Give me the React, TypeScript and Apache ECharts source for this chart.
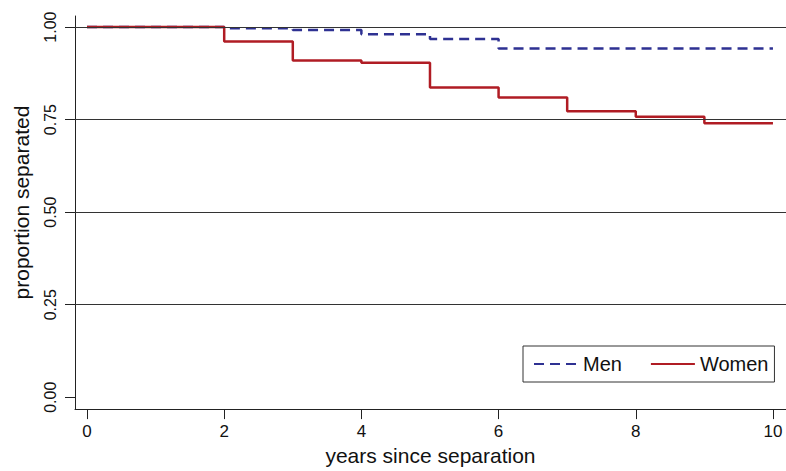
import React, { useEffect, useRef } from "react";
import * as echarts from "echarts";

const xTicks = [0, 2, 4, 6, 8, 10];
const yTicks = [0, 0.25, 0.5, 0.75, 1];
const gridLevels = [0.25, 0.5, 0.75, 1];

const menYears = [0, 2, 3, 4, 5, 6, 10];
const menSurv = [1.0, 0.997, 0.992, 0.981, 0.968, 0.942, 0.942];

const womenYears = [0, 2, 3, 4, 5, 6, 7, 8, 9, 10];
const womenSurv = [1.0, 0.961, 0.91, 0.9035, 0.837, 0.81, 0.773, 0.758, 0.74, 0.74];

const FONT = "'Liberation Sans', Arial, Helvetica, sans-serif";

export default function App() {
  const ref = useRef<HTMLDivElement>(null);
  useEffect(() => {
    const chart = echarts.init(ref.current!, null, { renderer: "svg" });
    chart.setOption({
      animation: false,
      textStyle: { fontFamily: FONT },
      grid: { left: 75, right: 0, top: 16, bottom: 55 },
      legend: {
        data: ["Men", "Women"],
        left: 523,
        top: 346,
        orient: "horizontal",
        borderColor: "#333",
        borderWidth: 1,
        padding: [8, 6, 8, 10],
        itemGap: 28,
        itemWidth: 44,
        itemHeight: 14,
        itemStyle: { opacity: 0 },
        textStyle: { fontSize: 20, color: "#111", fontFamily: FONT },
      },
      xAxis: {
        type: "value",
        min: -0.175,
        max: 10.19,
        name: "years since separation",
        nameLocation: "middle",
        nameGap: 33,
        nameTextStyle: { fontSize: 21, color: "#111", fontFamily: FONT },
        axisLine: { show: true, onZero: false, lineStyle: { color: "#222", width: 1 } },
        axisTick: { show: true, length: 10, customValues: xTicks, lineStyle: { color: "#222" } },
        axisLabel: { customValues: xTicks, fontSize: 17, color: "#111", margin: 14 },
        splitLine: { show: false },
      },
      yAxis: {
        type: "value",
        min: -0.032,
        max: 1.03,
        name: "proportion separated",
        nameLocation: "middle",
        nameGap: 43,
        nameTextStyle: { fontSize: 21, color: "#111", fontFamily: FONT, padding: [0, 0, 0, 20] },
        axisLine: { show: true, onZero: false, lineStyle: { color: "#222", width: 1 } },
        axisTick: { show: true, length: 10, customValues: yTicks, lineStyle: { color: "#222" } },
        axisLabel: {
          customValues: yTicks,
          fontSize: 16,
          color: "#111",
          rotate: 90,
          margin: 17,
          formatter: (v: number) => v.toFixed(2),
        },
        splitLine: { show: false },
      },
      series: [
        {
          name: "gridlines",
          type: "line",
          data: [],
          z: 1,
          silent: true,
          markLine: {
            silent: true,
            symbol: ["none", "none"],
            label: { show: false },
            lineStyle: { color: "#333", width: 1, type: "solid" },
            data: gridLevels.map((v) => ({ yAxis: v })),
          },
        },
        {
          name: "Men",
          type: "line",
          step: "end",
          symbol: "none",
          z: 3,
          data: menYears.map((x, i) => [x, menSurv[i]]),
          lineStyle: { color: "#2e3192", width: 2.5, type: [10, 6] },
          itemStyle: { color: "#2e3192" },
        },
        {
          name: "Women",
          type: "line",
          step: "end",
          symbol: "none",
          z: 4,
          data: womenYears.map((x, i) => [x, womenSurv[i]]),
          lineStyle: { color: "#b01c24", width: 2.5, type: "solid" },
          itemStyle: { color: "#b01c24" },
        },
      ],
    });
    return () => chart.dispose();
  }, []);
  return (
    <div
      ref={ref}
      style={{ position: "absolute", left: 0, top: 0, width: 786, height: 471, background: "#fff" }}
    />
  );
}
